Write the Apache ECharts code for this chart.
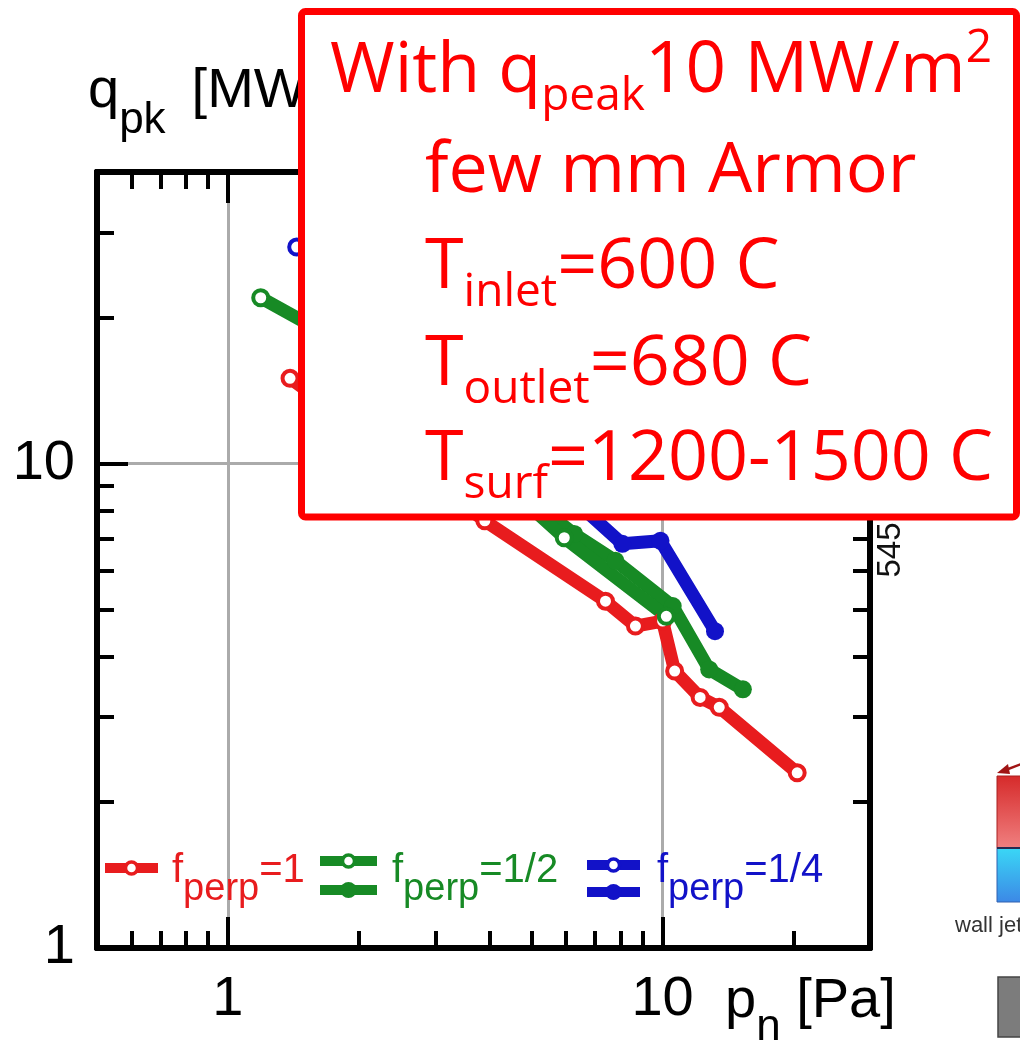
<!DOCTYPE html>
<html>
<head>
<meta charset="utf-8">
<script src="https://cdn.jsdelivr.net/npm/echarts@6/dist/echarts.min.js"></script>
<style>
  html, body { margin: 0; padding: 0; background: #fff; }
  #chart { width: 1020px; height: 1046px; }
</style>
</head>
<body>
<div id="chart"></div>
<script>
// ---- axis ranges and tick values (log-log) ----
const X_MIN = 0.5, X_MAX = 30;
const Y_MIN = 1, Y_MAX = 40;
const xMajor = [1, 10];
const xMajorLabels = ['1', '10'];
const xMinor = [0.6, 0.7, 0.8, 0.9, 2, 3, 4, 5, 6, 7, 8, 9, 20];
const yMajor = [1, 10];
const yMajorLabels = ['1', '10'];
const yMinor = [2, 3, 4, 5, 6, 7, 8, 9, 20, 30];

// ---- series: neutral pressure p_n [Pa] vs peak heat flux q_pk [MW/m2] ----
// f_perp = 1 (open markers)
const pPerp1 = [1.39, 3.90, 7.39, 8.66, 10.0, 10.66, 12.2, 13.5, 20.4];
const qPerp1 = [15.0, 7.62, 5.20, 4.62, 4.73, 3.73, 3.29, 3.14, 2.30];
// f_perp = 1/2 (open markers)
const pHalfOpen = [1.19, 2.0, 5.94, 10.2];
const qHalfOpen = [22.0, 17.0, 7.03, 4.84];
// f_perp = 1/2 (filled markers)
const pHalfFilled = [3.0, 6.26, 7.79, 10.55, 12.8, 15.3];
const qHalfFilled = [12.0, 7.16, 6.30, 5.08, 3.76, 3.42];
// f_perp = 1/4 (open markers)
const pQuarterOpen = [1.44, 3.0];
const qQuarterOpen = [28.0, 17.0];
// f_perp = 1/4 (filled markers)
const pQuarterFilled = [4.75, 8.08, 9.89, 13.2];
const qQuarterFilled = [10.5, 6.83, 6.93, 4.51];

const RED = '#e81c1e', GREEN = '#178a25', BLUE = '#1212c8';
const BOX_RED = '#ff0000';
const SANS = '"Liberation Sans"';
const CALLOUT = '"Open Sans"';

const zip = (xs, ys) => xs.map((x, i) => [x, ys[i]]);

function labelFor(values, labels) {
  return v => {
    const i = values.findIndex(t => Math.abs(t - v) / t < 1e-6);
    return i < 0 ? '' : labels[i];
  };
}

function logAxis(kind, position, ticks, tickLen, extra) {
  const isX = kind === 'x';
  return Object.assign({
    type: 'log', logBase: 10,
    min: isX ? X_MIN : Y_MIN, max: isX ? X_MAX : Y_MAX,
    position: position,
    axisLine: { show: true, onZero: false, lineStyle: { color: '#000', width: 6 } },
    axisTick: { show: true, inside: true, length: tickLen, customValues: ticks,
                lineStyle: { color: '#000', width: 4 } },
    axisLabel: { show: false },
    splitLine: { show: false },
    minorTick: { show: false },
    minorSplitLine: { show: false }
  }, extra || {});
}

const tickFont = { fontSize: 56, fontFamily: SANS, color: '#000' };

const xAxes = [
  logAxis('x', 'bottom', xMajor, 31, {
    axisLabel: Object.assign({ show: true, customValues: xMajor, margin: 24,
      formatter: labelFor(xMajor, xMajorLabels) }, tickFont),
    splitLine: { show: true, lineStyle: { color: '#ababab', width: 3 } }
  }),
  logAxis('x', 'bottom', xMinor, 17),
  logAxis('x', 'top', xMajor, 31),
  logAxis('x', 'top', xMinor, 17)
];
const yAxes = [
  logAxis('y', 'left', yMajor, 31, {
    axisLabel: Object.assign({ show: true, customValues: yMajor, margin: 22,
      padding: [0, 0, 18, 0],
      formatter: labelFor(yMajor, yMajorLabels) }, tickFont),
    splitLine: { show: true, lineStyle: { color: '#ababab', width: 3 } }
  }),
  logAxis('y', 'left', yMinor, 17),
  logAxis('y', 'right', yMajor, 31),
  logAxis('y', 'right', yMinor, 17)
];

function lineSeries(name, xs, ys, color, filled) {
  return {
    name: name, type: 'line', data: zip(xs, ys),
    xAxisIndex: 0, yAxisIndex: 0,
    symbol: 'circle',
    symbolSize: filled ? 18 : 15,
    showSymbol: true,
    lineStyle: { color: color, width: 13, join: 'round', cap: 'round' },
    itemStyle: filled ? { color: color } : { color: '#fff', borderColor: color, borderWidth: 4 },
    emphasis: { disabled: true },
    z: 3
  };
}

// ---- text helpers: runs of text with sub/superscripts placed on a baseline ----
const mctx = document.createElement('canvas').getContext('2d');
function baseOffset(font) {
  mctx.font = font;
  mctx.textBaseline = 'alphabetic';
  const a = mctx.measureText('H').actualBoundingBoxAscent;
  mctx.textBaseline = 'middle';
  const b = mctx.measureText('H').actualBoundingBoxAscent;
  mctx.textBaseline = 'alphabetic';
  return a - b;
}
const graphics = [];
function runs(x, baseline, parts, color, family, z) {
  let cx = x;
  parts.forEach(p => {
    const font = p.size + 'px ' + family;
    const off = baseOffset(font);
    graphics.push({
      type: 'text', x: cx, y: baseline + (p.dy || 0) - off, z: z, silent: true,
      style: { text: p.t, font: font, fill: color,
               align: 'left', verticalAlign: 'middle',
               textAlign: 'left', textVerticalAlign: 'middle' }
    });
    mctx.font = font;
    cx += mctx.measureText(p.t).width + (p.dx || 0);
  });
}

// axis titles
runs(88, 107, [
  { t: 'q', size: 56 },
  { t: 'pk', size: 44, dy: 26, dx: 26 },
  { t: '[MW/m', size: 56 },
  { t: '2', size: 38, dy: -24 },
  { t: ']', size: 56 }
], '#000', SANS, 10);
runs(725, 1017, [
  { t: 'p', size: 56 },
  { t: 'n', size: 44, dy: 23 },
  { t: ' [Pa]', size: 56 }
], '#000', SANS, 10);

// inline legend
function legendKey(x1, x2, y, color, filled) {
  graphics.push({ type: 'line', z: 50, silent: true,
    shape: { x1: x1, y1: y, x2: x2, y2: y },
    style: { stroke: color, lineWidth: 10 } });
  graphics.push({ type: 'circle', z: 51, silent: true,
    shape: { cx: (x1 + x2) / 2, cy: y, r: filled ? 8 : 6 },
    style: filled ? { fill: color } : { fill: '#fff', stroke: color, lineWidth: 3.5 } });
}
function legendText(x, value, color) {
  runs(x, 882, [
    { t: 'f', size: 40 },
    { t: 'perp', size: 38, dy: 18 },
    { t: value, size: 40 }
  ], color, SANS, 52);
}
legendKey(105, 158, 868, RED, false);
legendText(172, '=1', RED);
legendKey(320, 377, 861, GREEN, false);
legendKey(320, 377, 890, GREEN, true);
legendText(392, '=1/2', GREEN);
legendKey(587, 640, 865, BLUE, false);
legendKey(587, 640, 892, BLUE, true);
legendText(657, '=1/4', BLUE);

// page number next to the right frame
graphics.push({ type: 'text', x: 891, y: 550, rotation: Math.PI / 2, z: 10, silent: true,
  style: { text: '545', font: '33px ' + SANS, fill: '#111',
           align: 'center', verticalAlign: 'middle', textAlign: 'center', textVerticalAlign: 'middle' } });

// neighbouring panel at the right edge
graphics.push({ type: 'rect', z: 10, silent: true,
  shape: { x: 997, y: 776, width: 30, height: 72 },
  style: { fill: new echarts.graphic.LinearGradient(0, 0, 0, 1, [
    { offset: 0, color: '#d62a2a' }, { offset: 1, color: '#f08080' }]), stroke: '#a82020', lineWidth: 1 } });
graphics.push({ type: 'rect', z: 10, silent: true,
  shape: { x: 997, y: 848, width: 30, height: 54 },
  style: { fill: new echarts.graphic.LinearGradient(0, 0, 0, 1, [
    { offset: 0, color: '#3ad8f6' }, { offset: 1, color: '#3c88e6' }]), stroke: '#3060b0', lineWidth: 1 } });
graphics.push({ type: 'line', z: 11, silent: true,
  shape: { x1: 997, y1: 848, x2: 1022, y2: 848 }, style: { stroke: '#2a2a50', lineWidth: 2 } });
graphics.push({ type: 'line', z: 11, silent: true,
  shape: { x1: 1024, y1: 763, x2: 1003, y2: 771 }, style: { stroke: '#a01414', lineWidth: 2.5 } });
graphics.push({ type: 'polygon', z: 11, silent: true,
  shape: { points: [[997, 773], [1008, 764], [1010, 774]] }, style: { fill: '#a01414' } });
graphics.push({ type: 'text', x: 955, y: 926, z: 10, silent: true,
  style: { text: 'wall jet', font: '22px ' + SANS, fill: '#333',
           align: 'left', verticalAlign: 'middle', textAlign: 'left', textVerticalAlign: 'middle' } });
graphics.push({ type: 'rect', z: 10, silent: true,
  shape: { x: 998, y: 977, width: 30, height: 60 },
  style: { fill: '#7c7c7c', stroke: '#444', lineWidth: 1.5 } });

// callout box with design parameters
graphics.push({ type: 'rect', z: 90, silent: true,
  shape: { x: 301.5, y: 11.5, width: 715, height: 505.5, r: 4 },
  style: { fill: '#fff', stroke: BOX_RED, lineWidth: 7 } });
const SUB = 46;
runs(330, 92, [
  { t: 'With q', size: 70 },
  { t: 'peak', size: SUB, dy: 18 },
  { t: '10 MW/m', size: 71 },
  { t: '2', size: SUB, dy: -30 }
], BOX_RED, CALLOUT, 95);
runs(425, 192, [{ t: 'few mm Armor', size: 70 }], BOX_RED, CALLOUT, 95);
runs(425, 288, [
  { t: 'T', size: 70 }, { t: 'inlet', size: SUB, dy: 18 }, { t: '=600 C', size: 70 }
], BOX_RED, CALLOUT, 95);
runs(425, 385, [
  { t: 'T', size: 70 }, { t: 'outlet', size: SUB, dy: 18 }, { t: '=680 C', size: 70 }
], BOX_RED, CALLOUT, 95);
runs(425, 480, [
  { t: 'T', size: 70 }, { t: 'surf', size: SUB, dy: 18 }, { t: '=1200-1500 C', size: 70 }
], BOX_RED, CALLOUT, 95);

const chart = echarts.init(document.getElementById('chart'), null, { renderer: 'canvas' });
chart.setOption({
  animation: false,
  backgroundColor: '#fff',
  grid: { left: 97, right: 150, top: 172, bottom: 98, containLabel: false, outerBoundsMode: 'none' },
  xAxis: xAxes,
  yAxis: yAxes,
  series: [
    lineSeries('f_perp=1', pPerp1, qPerp1, RED, false),
    lineSeries('f_perp=1/2 filled', pHalfFilled, qHalfFilled, GREEN, true),
    lineSeries('f_perp=1/2 open', pHalfOpen, qHalfOpen, GREEN, false),
    lineSeries('f_perp=1/4 filled', pQuarterFilled, qQuarterFilled, BLUE, true),
    lineSeries('f_perp=1/4 open', pQuarterOpen, qQuarterOpen, BLUE, false)
  ],
  graphic: { elements: graphics }
});
</script>
</body>
</html>
